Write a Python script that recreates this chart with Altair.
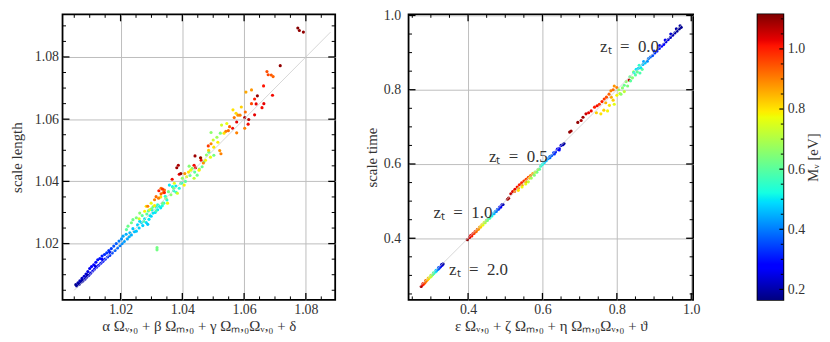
import altair as alt
import pandas as pd

# ---------------- data ----------------
# left panel: (x, scale length, M_nu)
left_blue = [
    (1.0055,1.0068,0.18),(1.0058,1.0064,0.19),(1.0062,1.0074,0.20),(1.0066,1.0069,0.19),
    (1.0068,1.0080,0.21),(1.0072,1.0076,0.20),(1.0075,1.0088,0.22),(1.0078,1.0080,0.21),
    (1.0082,1.0095,0.23),(1.0085,1.0086,0.22),(1.0088,1.0102,0.24),(1.0090,1.0092,0.22),
    (1.0094,1.0110,0.25),(1.0097,1.0098,0.24),(1.0100,1.0120,0.26),(1.0103,1.0105,0.25),
    (1.0106,1.0126,0.27),(1.0110,1.0112,0.26),(1.0113,1.0132,0.28),(1.0116,1.0118,0.27),
    (1.0120,1.0140,0.29),(1.0122,1.0124,0.28),(1.0126,1.0148,0.30),(1.0129,1.0130,0.29),
    (1.0133,1.0152,0.30),(1.0136,1.0137,0.30),(1.0140,1.0160,0.31),(1.0143,1.0143,0.30),
    (1.0148,1.0165,0.32),(1.0150,1.0150,0.31),(1.0155,1.0170,0.33),(1.0158,1.0157,0.32),
    (1.0162,1.0178,0.33),(1.0165,1.0162,0.33),(1.0170,1.0184,0.34),(1.0173,1.0170,0.35),
    (1.0178,1.0192,0.36),(1.0182,1.0178,0.37),(1.0186,1.0200,0.37),(1.0190,1.0186,0.38),
    (1.0195,1.0208,0.40),(1.0198,1.0193,0.40),(1.0118,1.0128,0.25),(1.0140,1.0150,0.28),
    (1.0165,1.0172,0.31),(1.0092,1.0100,0.21),(1.0075,1.0082,0.20),
]
left_cyan = [
    (1.0203,1.0215,0.42),(1.0208,1.0224,0.44),(1.0205,1.0200,0.42),(1.0212,1.0207,0.43),
    (1.0218,1.0230,0.45),(1.0222,1.0215,0.44),(1.0230,1.0235,0.46),(1.0235,1.0228,0.45),
    (1.0240,1.0248,0.47),(1.0245,1.0238,0.46),(1.0251,1.0240,0.47),(1.0255,1.0260,0.48),
    (1.0260,1.0250,0.48),(1.0267,1.0267,0.49),(1.0272,1.0258,0.48),(1.0278,1.0280,0.50),
    (1.0283,1.0268,0.49),(1.0288,1.0262,0.47),(1.0295,1.0290,0.50),(1.0299,1.0288,0.49),
    (1.0305,1.0298,0.50),(1.0312,1.0300,0.49),(1.0320,1.0309,0.50),(1.0325,1.0320,0.52),
    (1.0330,1.0315,0.50),(1.0340,1.0330,0.53),(1.0350,1.0340,0.52),(1.0358,1.0388,0.50),
    (1.0368,1.0383,0.52),(1.0379,1.0385,0.50),(1.0390,1.0378,0.53),(1.0398,1.0395,0.55),
    (1.0228,1.0222,0.45),(1.0262,1.0272,0.49),(1.0292,1.0278,0.50),(1.0302,1.0308,0.51),
    (1.0316,1.0318,0.52),(1.0335,1.0322,0.53),(1.0345,1.0352,0.54),(1.0372,1.0370,0.55),
]
left_green = [
    (1.0219,1.0245,0.60),(1.0224,1.0256,0.62),(1.0235,1.0267,0.63),(1.0240,1.0277,0.62),
    (1.0251,1.0283,0.64),(1.0262,1.0298,0.65),(1.0270,1.0290,0.60),(1.0275,1.0272,0.58),
    (1.0285,1.0295,0.60),(1.0300,1.0312,0.62),(1.0315,1.0305,0.58),(1.0320,1.0325,0.55),
    (1.0336,1.0330,0.62),(1.0347,1.0346,0.64),(1.0355,1.0367,0.63),(1.0363,1.0357,0.66),
    (1.0318,1.0187,0.63),(1.0318,1.0180,0.63),(1.0395,1.0394,0.58),(1.0425,1.0419,0.62),
    (1.0422,1.0449,0.65),(1.0448,1.0420,0.63),(1.0464,1.0447,0.62),(1.0486,1.0494,0.62),
    (1.0502,1.0484,0.63),(1.0523,1.0555,0.64),(1.0493,1.0557,0.66),(1.0512,1.0542,0.68),
    (1.0410,1.0400,0.60),(1.0380,1.0365,0.57),(1.0440,1.0430,0.60),(1.0455,1.0440,0.64),
    (1.0470,1.0462,0.62),(1.0290,1.0305,0.60),(1.0305,1.0318,0.63),(1.0372,1.0378,0.64),
    (1.0400,1.0410,0.66),(1.0432,1.0442,0.66),(1.0478,1.0485,0.66),
]
left_yellow = [
    (1.0278,1.0304,0.78),(1.0283,1.0320,0.80),(1.0294,1.0309,0.76),(1.0299,1.0330,0.77),
    (1.0352,1.0330,0.78),(1.0374,1.0394,0.76),(1.0406,1.0388,0.78),(1.0414,1.0415,0.76),
    (1.0427,1.0436,0.77),(1.0454,1.0436,0.79),(1.0438,1.0410,0.72),(1.0475,1.0468,0.78),
    (1.0491,1.0478,0.76),(1.0502,1.0510,0.80),(1.0527,1.0581,0.74),(1.0544,1.0586,0.77),
    (1.0564,1.0630,0.80),(1.0574,1.0619,0.81),(1.0591,1.0639,0.82),(1.0500,1.0533,0.73),
    (1.0515,1.0526,0.79),(1.0384,1.0362,0.74),(1.0260,1.0280,0.74),(1.0310,1.0322,0.79),
    (1.0330,1.0350,0.80),(1.0420,1.0430,0.80),(1.0460,1.0475,0.80),(1.0485,1.0500,0.82),
    (1.0535,1.0555,0.80),
]
left_orange = [
    (1.0288,1.0320,0.90),(1.0310,1.0341,0.90),(1.0315,1.0351,0.92),(1.0323,1.0346,0.90),
    (1.0331,1.0378,0.91),(1.0342,1.0372,0.92),(1.0338,1.0364,0.90),(1.0331,1.0360,0.93),
    (1.0408,1.0425,0.88),(1.0468,1.0459,0.89),(1.0493,1.0521,0.90),(1.0521,1.0499,0.88),
    (1.0525,1.0489,0.90),(1.0541,1.0561,0.90),(1.0549,1.0563,0.92),(1.0576,1.0556,0.90),
    (1.0553,1.0576,0.93),(1.0568,1.0605,0.91),(1.0580,1.0613,0.88),(1.0587,1.0613,0.90),
    (1.0602,1.0571,0.90),(1.0604,1.0623,0.92),(1.0606,1.0687,0.86),(1.0624,1.0694,0.88),
    (1.0624,1.0650,0.96),(1.0674,1.0753,0.95),(1.0678,1.0743,0.96),(1.0688,1.0742,0.94),
    (1.0694,1.0737,0.93),(1.0484,1.0514,0.97),
]
left_red = [
    (1.0324,1.0370,1.00),(1.0336,1.0375,0.98),(1.0342,1.0364,1.00),(1.0367,1.0407,1.02),
    (1.0390,1.0423,1.03),(1.0438,1.0452,1.02),(1.0443,1.0444,1.03),(1.0461,1.0468,1.02),
    (1.0563,1.0571,1.02),(1.0576,1.0591,1.03),(1.0613,1.0584,1.02),(1.0634,1.0614,1.03),
    (1.0634,1.0665,1.00),(1.0639,1.0649,1.03),(1.0658,1.0637,1.02),(1.0663,1.0707,1.01),
    (1.0664,1.0650,1.03),(1.0692,1.0677,1.02),
]
left_darkred = [
    (1.0382,1.0444,1.09),(1.0387,1.0452,1.08),(1.0395,1.0425,1.10),(1.0441,1.0482,1.09),
    (1.0459,1.0476,1.10),(1.0602,1.0605,1.08),(1.0615,1.0599,1.07),(1.0643,1.0675,1.10),
    (1.0717,1.0772,1.10),(1.0774,1.0893,1.11),(1.0779,1.0885,1.10),(1.0792,1.0880,1.10),
]

# right panel: (x, scale time, M_nu)
right_z2 = [
    (0.274,0.270,1.08),(0.277,0.274,1.03),(0.280,0.276,0.98),(0.279,0.278,1.00),(0.284,0.280,0.94),
    (0.287,0.284,0.90),(0.286,0.286,0.92),(0.291,0.288,0.85),(0.294,0.291,0.80),(0.293,0.293,0.82),
    (0.298,0.295,0.74),(0.301,0.298,0.70),(0.300,0.300,0.72),(0.305,0.302,0.64),(0.308,0.305,0.58),
    (0.307,0.307,0.60),(0.312,0.309,0.52),(0.315,0.312,0.46),(0.314,0.314,0.48),(0.319,0.316,0.41),
    (0.322,0.319,0.35),(0.321,0.321,0.37),(0.326,0.323,0.30),(0.330,0.327,0.25),(0.329,0.329,0.23),
    (0.333,0.331,0.20),
]
right_z1 = [
    (0.398,0.396,1.10),(0.404,0.402,1.05),(0.407,0.407,1.03),(0.410,0.406,1.00),(0.413,0.412,1.02),
    (0.416,0.413,0.97),(0.419,0.418,0.98),(0.422,0.418,0.92),(0.425,0.424,0.93),(0.428,0.424,0.88),
    (0.431,0.430,0.86),(0.434,0.430,0.82),(0.437,0.436,0.80),(0.440,0.436,0.76),(0.443,0.442,0.74),
    (0.446,0.442,0.70),(0.449,0.448,0.68),(0.452,0.448,0.64),(0.455,0.454,0.60),(0.458,0.454,0.57),
    (0.461,0.460,0.55),(0.464,0.460,0.52),(0.467,0.466,0.49),(0.470,0.466,0.46),(0.473,0.472,0.43),
    (0.476,0.472,0.40),(0.479,0.478,0.37),(0.482,0.478,0.34),(0.485,0.484,0.30),(0.488,0.484,0.27),
    (0.491,0.490,0.24),(0.494,0.491,0.21),
]
right_z05 = [
    (0.506,0.505,1.10),(0.509,0.508,1.08),
    (0.515,0.520,1.06),(0.520,0.526,1.04),(0.526,0.532,1.03),(0.532,0.538,1.02),(0.538,0.544,1.00),
    (0.544,0.549,1.00),(0.550,0.554,0.98),(0.556,0.559,0.96),(0.562,0.564,0.95),(0.568,0.569,0.90),
    (0.574,0.574,0.86),
    (0.525,0.526,0.92),(0.535,0.535,0.90),(0.545,0.543,0.88),(0.555,0.552,0.85),(0.565,0.562,0.82),
    (0.535,0.529,0.80),(0.545,0.538,0.78),(0.555,0.546,0.76),(0.562,0.552,0.72),(0.570,0.562,0.68),
    (0.578,0.570,0.65),(0.585,0.578,0.62),(0.592,0.586,0.60),(0.580,0.578,0.70),(0.588,0.585,0.66),
    (0.595,0.594,0.55),(0.600,0.599,0.52),(0.605,0.604,0.49),(0.610,0.609,0.46),(0.615,0.614,0.43),
    (0.620,0.620,0.40),(0.625,0.623,0.37),(0.630,0.630,0.34),(0.635,0.632,0.31),(0.640,0.640,0.28),
    (0.645,0.642,0.26),(0.650,0.650,0.23),(0.655,0.652,0.21),(0.658,0.655,0.19),(0.620,0.617,0.38),
    (0.632,0.627,0.33),(0.645,0.638,0.27),
]
right_z0 = [
    (0.673,0.686,1.10),(0.677,0.689,1.09),(0.695,0.712,1.10),(0.704,0.717,1.08),(0.709,0.726,1.09),
    (0.717,0.735,1.05),(0.724,0.738,1.03),(0.731,0.743,1.02),(0.740,0.753,1.00),(0.747,0.757,1.02),
    (0.753,0.761,0.98),(0.760,0.768,1.00),(0.766,0.775,0.97),(0.772,0.780,0.95),(0.779,0.788,0.93),
    (0.784,0.797,0.90),(0.793,0.810,0.88),(0.790,0.800,0.92),(0.800,0.806,0.90),(0.833,0.826,1.06),
    (0.745,0.738,0.82),(0.757,0.735,0.80),(0.765,0.745,0.82),(0.775,0.743,0.78),(0.780,0.758,0.80),
    (0.793,0.761,0.76),(0.790,0.772,0.82),(0.800,0.785,0.78),(0.808,0.790,0.75),(0.770,0.765,0.85),
    (0.785,0.780,0.86),
    (0.805,0.800,0.68),(0.811,0.788,0.66),(0.815,0.805,0.65),(0.820,0.812,0.62),(0.829,0.810,0.64),
    (0.825,0.822,0.66),(0.837,0.824,0.60),(0.835,0.835,0.62),(0.842,0.832,0.65),(0.850,0.840,0.60),
    (0.855,0.848,0.62),(0.862,0.845,0.58),(0.868,0.855,0.60),(0.845,0.848,0.70),(0.820,0.795,0.72),
    (0.846,0.846,0.52),(0.852,0.855,0.50),(0.858,0.858,0.48),(0.864,0.860,0.50),(0.870,0.868,0.46),
    (0.876,0.872,0.47),(0.860,0.866,0.55),
    (0.882,0.877,0.42),(0.885,0.884,0.40),(0.890,0.888,0.38),(0.896,0.892,0.36),(0.872,0.876,0.44),
    (0.902,0.899,0.33),(0.908,0.904,0.31),(0.914,0.911,0.30),(0.920,0.917,0.28),(0.926,0.922,0.27),
    (0.932,0.929,0.25),(0.938,0.935,0.24),(0.944,0.941,0.22),(0.950,0.947,0.21),(0.956,0.953,0.20),
    (0.962,0.958,0.19),(0.968,0.964,0.18),(0.973,0.968,0.18),(0.900,0.904,0.32),(0.915,0.919,0.29),
    (0.930,0.934,0.26),(0.945,0.950,0.23),(0.960,0.964,0.20),(0.970,0.972,0.19),
]

# reference y = x lines (end points)
left_diag = [1.005, 1.088]
right_diag = [0.270, 0.975]

# axis ticks
left_major = [1.02, 1.04, 1.06, 1.08]
left_minor_x = [1.005, 1.010, 1.015, 1.025, 1.030, 1.035, 1.045, 1.050, 1.055, 1.065, 1.070, 1.075, 1.085]
left_minor_y = left_minor_x + [1.090]
right_major = [0.4, 0.6, 0.8, 1.0]
right_minor = [0.25, 0.30, 0.35, 0.45, 0.50, 0.55, 0.65, 0.70, 0.75, 0.85, 0.90, 0.95]
cbar_major = [0.2, 0.4, 0.6, 0.8, 1.0]
cbar_minor = [0.25, 0.30, 0.35, 0.45, 0.50, 0.55, 0.65, 0.70, 0.75, 0.85, 0.90, 0.95, 1.05, 1.10]

# annotations
ann_text = ["zₜ\u2002=\u20020.0", "zₜ\u2002=\u20020.5", "zₜ\u2002=\u20021.0", "zₜ\u2002=\u20022.0"]
ann_x = [0.755, 0.456, 0.307, 0.349]
ann_y = [0.915, 0.618, 0.467, 0.314]

# ---------------- styling ----------------
FONT = "Liberation Serif"
TXT = "#333333"
jet_t = [0, 0.11, 0.125, 0.34, 0.35, 0.375, 0.64, 0.65, 0.66, 0.89, 0.91, 1.0]
jet_c = ["#000080", "#0000ff", "#0000ff", "#00dbff", "#00e6f7", "#15ffe2",
         "#eeff08", "#f7f500", "#ffec00", "#ff1300", "#e80000", "#800000"]
m_lo, m_hi = 0.165, 1.115
cscale = alt.Scale(domain=[m_lo + t * (m_hi - m_lo) for t in jet_t], range=jet_c, interpolate="rgb")


def frame(rows):
    return pd.DataFrame(rows, columns=["x", "y", "m"])


left_df = frame(left_blue + left_cyan + left_green + left_yellow + left_orange + left_red + left_darkred)
right_df = frame(right_z2 + right_z1 + right_z05 + right_z0)

MAJ, MIN = 7, 3.5


def xticks(values, xs, H, length, width, top):
    d = pd.DataFrame({"x": values})
    y0, y1 = (0, length) if top else (H, H - length)
    return alt.Chart(d).mark_rule(color="black", strokeWidth=width).encode(
        x=alt.X("x:Q", scale=xs), y=alt.value(y0), y2=alt.value(y1))


def yticks(values, ys, W, length, width, right):
    d = pd.DataFrame({"y": values})
    x0, x1 = (W, W - length) if right else (0, length)
    return alt.Chart(d).mark_rule(color="black", strokeWidth=width).encode(
        y=alt.Y("y:Q", scale=ys), x=alt.value(x0), x2=alt.value(x1))


def panel(df, diag, xdom, ydom, xmaj, xmin, ymaj, ymin, W, H, xtitle, ytitle, fmt,
          ylabpad, ytitlepad, ann=None):
    xs = alt.Scale(domain=xdom, nice=False, zero=False)
    ys = alt.Scale(domain=ydom, nice=False, zero=False)
    pts = alt.Chart(df).mark_circle(size=10, opacity=1).encode(
        x=alt.X("x:Q", scale=xs, axis=alt.Axis(values=xmaj, format=fmt, grid=True, ticks=False,
                                               domain=False, title=xtitle, labelPadding=3,
                                               titlePadding=2)),
        y=alt.Y("y:Q", scale=ys, axis=alt.Axis(values=ymaj, format=fmt, grid=True, ticks=False,
                                               domain=False, title=ytitle, labelPadding=ylabpad,
                                               titlePadding=ytitlepad)),
        color=alt.Color("m:Q", scale=cscale, legend=None),
    )
    ddf = pd.DataFrame({"x": diag, "y": diag})
    line = alt.Chart(ddf).mark_line(color="#cccccc", strokeWidth=1, opacity=0.8).encode(
        x=alt.X("x:Q", scale=xs), y=alt.Y("y:Q", scale=ys))
    layers = [pts, line]
    for top in (False, True):
        layers.append(xticks(xmaj, xs, H, MAJ, 1.3, top))
        layers.append(xticks(xmin, xs, H, MIN, 1.0, top))
    for right in (False, True):
        layers.append(yticks(ymaj, ys, W, MAJ, 1.3, right))
        layers.append(yticks(ymin, ys, W, MIN, 1.0, right))
    if ann is not None:
        layers.append(alt.Chart(ann).mark_text(align="left", baseline="middle", font=FONT,
                                               fontSize=17, color=TXT).encode(
            x=alt.X("x:Q", scale=xs), y=alt.Y("y:Q", scale=ys), text="t:N"))
    return alt.layer(*layers).properties(width=W, height=H)


ann_df = pd.DataFrame({"t": ann_text, "x": ann_x, "y": ann_y})

left = panel(left_df, left_diag, [1.0012, 1.0895], [1.0019, 1.0937], left_major, left_minor_x,
             left_major, left_minor_y, 275, 288,
             "α Ωᵥ,₀ + β Ωₘ,₀ + γ Ωₘ,₀Ωᵥ,₀ + δ", "scale length", ".2f", 4, 10)
right = panel(right_df, right_diag, [0.24, 1.005], [0.234, 1.003], right_major, right_minor,
              right_major, right_minor, 287, 288,
              "ε Ωᵥ,₀ + ζ Ωₘ,₀ + η Ωₘ,₀Ωᵥ,₀ + ϑ", "scale time", ".1f", 8, 4, ann=ann_df)

# colour bar
CW, CH = 26, 288
cbs = alt.Scale(domain=[m_lo, m_hi], nice=False, zero=False)
grad = alt.Gradient(gradient="linear",
                    stops=[alt.GradientStop(color=c, offset=t) for t, c in zip(jet_t, jet_c)],
                    x1=0, x2=0, y1=1, y2=0)
cbar_rect = alt.Chart(pd.DataFrame({"a": [0]})).mark_rect(color=grad).encode(
    y=alt.YDatum(m_lo, type="quantitative", scale=cbs,
                 axis=alt.Axis(orient="right", values=cbar_major, format=".1f", ticks=False,
                               domain=False, grid=False, labelPadding=4, title="Mᵥ [eV]",
                               titleAngle=270, titleBaseline="top", titlePadding=1,
                               titleFontSize=15)),
    y2=alt.Y2Datum(m_hi),
)
cb_layers = [cbar_rect]
for vals, ln, wd in ((cbar_major, 4, 1.2), (cbar_minor, 2.5, 1.0)):
    cb_layers.append(alt.Chart(pd.DataFrame({"y": vals})).mark_rule(color="black", strokeWidth=wd).encode(
        y=alt.Y("y:Q", scale=cbs), x=alt.value(CW), x2=alt.value(CW - ln)))
cbar = alt.layer(*cb_layers).properties(width=CW, height=CH)

chart = alt.hconcat(alt.hconcat(left, right, spacing=26), cbar, spacing=56).resolve_scale(
    color="shared").configure(
    padding={"left": 0, "top": -2, "right": 0, "bottom": 0},
    background="white",
).configure_view(stroke="black", strokeWidth=1.8).configure_axis(
    labelFont=FONT, labelFontSize=14, labelColor=TXT, titleFont=FONT, titleFontSize=15,
    titleFontWeight="normal", titleColor=TXT, gridColor="#bdbdbd", gridWidth=1,
)

chart.save("out.html", embed_options={"renderer": "svg", "actions": False})
